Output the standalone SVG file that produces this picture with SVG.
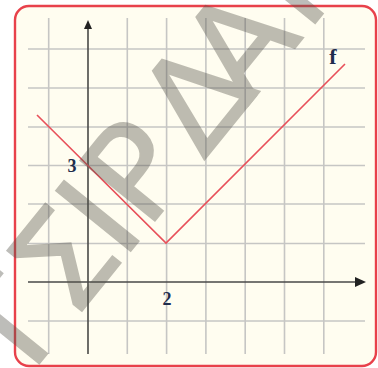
<svg xmlns="http://www.w3.org/2000/svg" width="378" height="368" viewBox="0 0 378 368">
<style>
.grid{stroke:#c6c6c4;stroke-width:1.6;fill:none}
.axis{stroke:#4a4a48;stroke-width:1.6;fill:none}
.curve{stroke:#e8505a;stroke-width:1.6;fill:none;stroke-linejoin:miter}
.lbl{font-family:"Liberation Serif","Times New Roman",serif;font-weight:bold;fill:#1f2d4d;text-anchor:middle}
.wm{font-family:"DejaVu Sans",sans-serif;font-size:132px;fill:#55534a;stroke:#55534a;stroke-width:1.6;stroke-linejoin:miter;text-anchor:middle}
</style>
<rect id="panel" x="15" y="6" width="361" height="360" rx="14" fill="#fffdf0"/>
<g id="grid" class="grid">
<path d="M48.7 18V354M127.3 18V354M166.6 18V354M205.9 18V354M245.2 18V354M284.5 18V354M323.8 18V354"/>
<path d="M28 49H365M28 88H365M28 127H365M28 165.5H365M28 204H365M28 243.5H365M28 321H365"/>
</g>
<g id="axes">
<path class="axis" d="M88 354V28M28 282H357"/>
<polygon points="88,20 84,29 92,29" fill="#222"/>
<polygon points="366,282 355,277 355,287" fill="#222"/>
</g>
<g id="graph-f">
<polyline class="curve" points="37,115 166,243 345,64"/>
</g>
<g id="labels">
<text class="lbl" x="72" y="172" font-size="18">3</text>
<text class="lbl" x="167" y="305" font-size="18">2</text>
<text class="lbl" x="333" y="64" font-size="22">f</text>
</g>
<rect id="border" x="15" y="6" width="361" height="360" rx="14" fill="none" stroke="#e8414b" stroke-width="2.4"/>
<g id="watermark" opacity="0.38" transform="translate(10,257) rotate(-51)">
<text class="wm" x="-58 32 87 146 242 311 410" y="90">ΤΣΙΡΔΑΝ</text>
</g>
</svg>
